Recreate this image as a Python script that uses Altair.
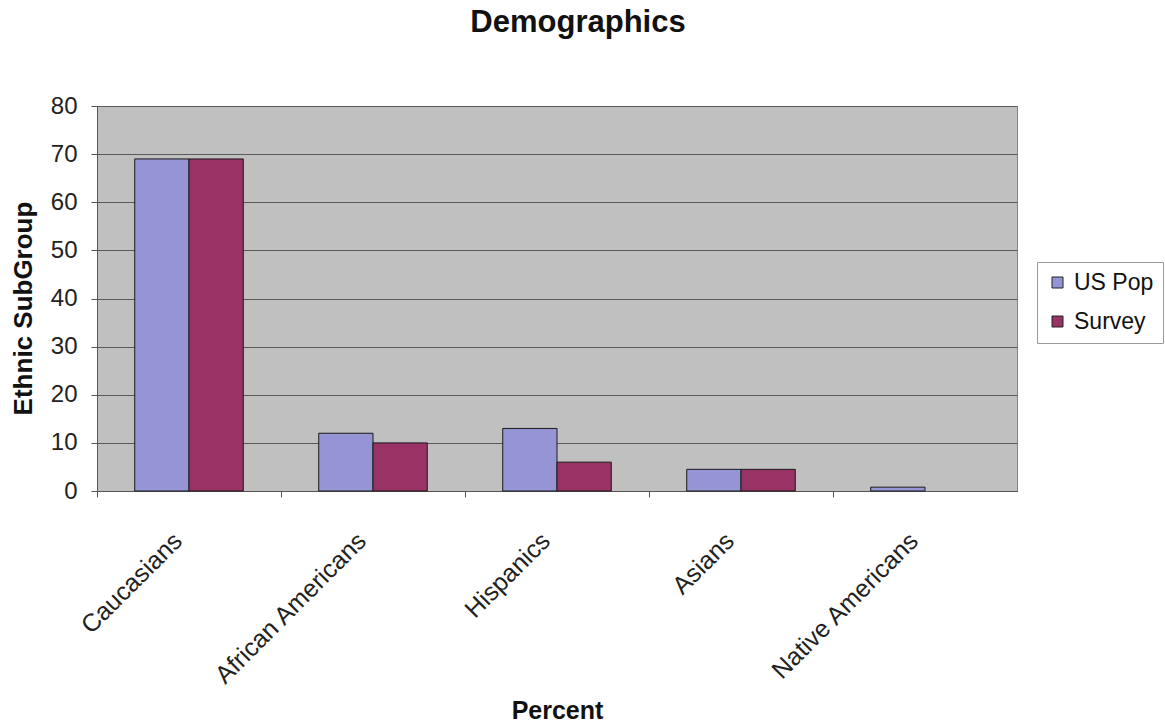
import altair as alt
import pandas as pd

categories = ["Caucasians", "African Americans", "Hispanics", "Asians", "Native Americans"]
us_pop = [69, 12, 13, 4.5, 0.8]
survey = [69, 10, 6, 4.5, 0]
series = ["US Pop", "Survey"]
colors = ["#9595d6", "#993366"]

rows = []
for c, u, s in zip(categories, us_pop, survey):
    rows.append({"group": c, "series": "US Pop", "value": u})
    rows.append({"group": c, "series": "Survey", "value": s})
df = pd.DataFrame(rows)

FONT = "Liberation Sans"
W, H = 920, 385
step = W / 5.0

chart = alt.Chart(df).transform_filter("datum.value > 0").mark_bar(
    stroke="#1a1a1a", strokeWidth=1
).encode(
    x=alt.X("group:N", sort=categories,
            scale=alt.Scale(paddingInner=0.41, paddingOuter=0.205),
            axis=alt.Axis(title="Percent", labelAngle=-45, labelFontSize=25,
                          labelFont=FONT, labelColor="#222222", labelLimit=0,
                          tickOffset=-step / 2, labelOffset=step / 2 - 20,
                          tickSize=6, tickColor="#555555", domainColor="#555555",
                          labelPadding=31,
                          titleFont=FONT, titleFontSize=25, titleFontWeight="bold",
                          titleColor="#111111", titleY=219, titleBaseline="middle")),
    xOffset=alt.XOffset("series:N", sort=series,
                        scale=alt.Scale(domain=series, paddingInner=0, paddingOuter=0)),
    y=alt.Y("value:Q", scale=alt.Scale(domain=[0, 80], nice=False),
            axis=alt.Axis(title="Ethnic SubGroup", values=list(range(0, 81, 10)),
                          labelFontSize=24, labelFont=FONT, labelColor="#222222",
                          tickSize=6, tickColor="#555555", domainColor="#555555",
                          labelPadding=14, gridColor="#5a5a5a", gridWidth=1,
                          titleFont=FONT, titleFontSize=26, titleFontWeight="bold",
                          titleColor="#111111", titleX=-74, titleY=202,
                          titleBaseline="middle")),
    color=alt.Color("series:N", sort=series,
                    scale=alt.Scale(domain=series, range=colors),
                    legend=alt.Legend(title=None, orient="none", legendX=940, legendY=156,
                                      labelFont=FONT, labelFontSize=23, labelColor="#111111",
                                      symbolType="square", symbolSize=121,
                                      symbolStrokeColor="#222222", symbolStrokeWidth=1,
                                      labelOffset=5,
                                      rowPadding=15, padding=9,
                                      strokeColor="#9a9a9a", fillColor="#ffffff")),
).properties(
    width=W, height=H,
    background="#ffffff",
    title=alt.TitleParams("Demographics", font=FONT, fontSize=31, fontWeight="bold",
                          color="#111111", anchor="middle", offset=55, dx=21),
    autosize=alt.AutoSizeParams(type="none"),
    padding={"left": 97, "top": 106, "right": 148, "bottom": 232},
).configure_view(
    fill="#c0c0c0", stroke="#808080", strokeWidth=1
)

chart.save("out.html", embed_options={"renderer": "svg", "actions": False})
